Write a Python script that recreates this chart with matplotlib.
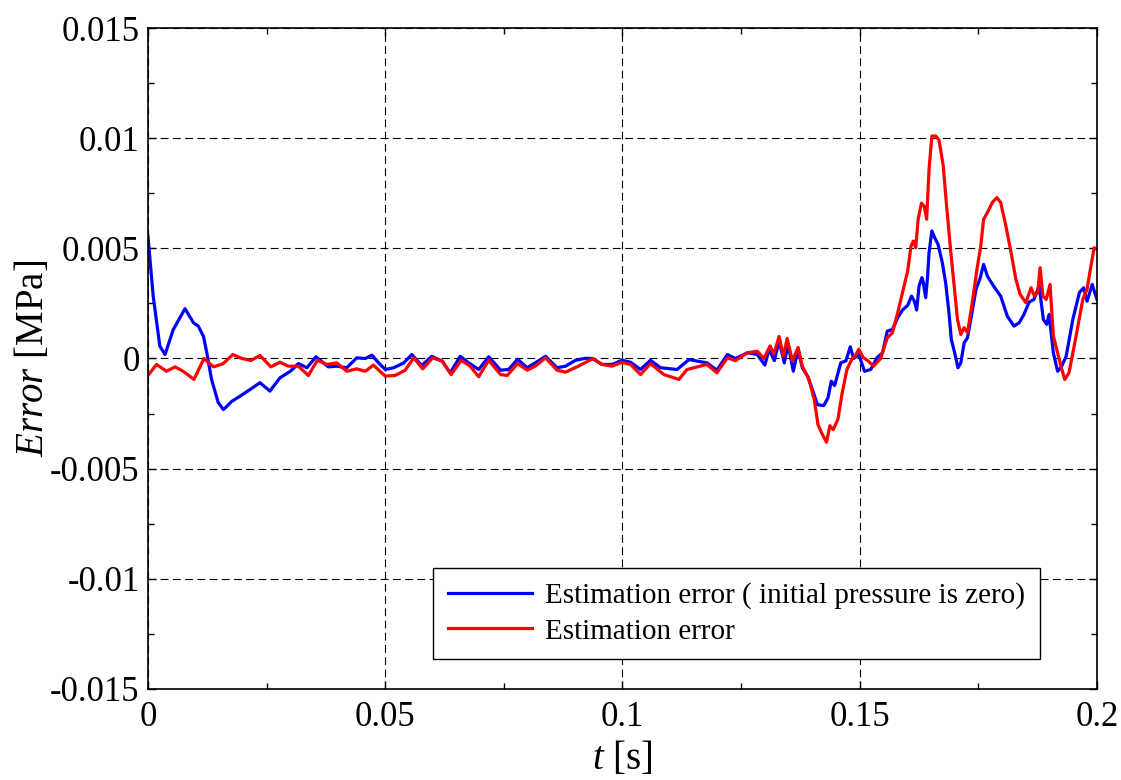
import matplotlib
matplotlib.use('Agg')
import matplotlib.pyplot as plt
from matplotlib.ticker import MultipleLocator

# blue: estimation error with initial pressure zero
t_blue = [0, 0.0011, 0.0025, 0.0036, 0.0053, 0.0078, 0.0096, 0.0106, 0.0117, 0.0124,
          0.0134, 0.0148, 0.0159, 0.0177, 0.0194, 0.0215, 0.0236, 0.0257, 0.0278, 0.0300,
          0.0317, 0.0335, 0.0354, 0.0380, 0.0398, 0.0419, 0.0440, 0.0458, 0.0472, 0.0486,
          0.0500, 0.0518, 0.0539, 0.0556, 0.0577, 0.0598, 0.0620, 0.0637, 0.0658, 0.0676,
          0.0697, 0.0718, 0.0743, 0.0760, 0.0779, 0.0799, 0.0816, 0.0838, 0.0862, 0.0880,
          0.0901, 0.0922, 0.0936, 0.0957, 0.0978, 0.0999, 0.1017, 0.1038, 0.1059, 0.1080,
          0.1115, 0.1140, 0.1178, 0.1199, 0.1221, 0.1238, 0.1263, 0.1284, 0.1300, 0.1309,
          0.1320, 0.1330, 0.1341, 0.1349, 0.1360, 0.1370, 0.1379, 0.1390, 0.1400, 0.1411,
          0.1424, 0.1433, 0.1440, 0.1447, 0.1460, 0.1471, 0.1480, 0.1487, 0.1498, 0.1510,
          0.1523, 0.1537, 0.1548, 0.1558, 0.1569, 0.1580, 0.1590, 0.1601, 0.1609, 0.1615,
          0.1620, 0.1625, 0.1631, 0.1634, 0.1639, 0.1643, 0.1646, 0.1652, 0.1658, 0.1665,
          0.1674, 0.1681, 0.1688, 0.1693, 0.1700, 0.1707, 0.1713, 0.1720, 0.1727, 0.1734,
          0.1745, 0.1754, 0.1761, 0.1769, 0.1782, 0.1797, 0.1811, 0.1825, 0.1836, 0.1846,
          0.1857, 0.1867, 0.1878, 0.1887, 0.1894, 0.1899, 0.1908, 0.1917, 0.1924, 0.1935,
          0.1949, 0.1963, 0.1972, 0.1979, 0.1990, 0.1995, 0.2000]
e_blue = [0.00556, 0.00283, 0.00056, 0.00018, 0.0013, 0.00226, 0.00162, 0.00147, 0.001, 0.00026,
          -0.00095, -0.002, -0.00232, -0.00194, -0.00171, -0.00141, -0.0011, -0.00148, -0.00088, -0.00058,
          -0.00023, -0.00042, 0.00008, -0.00038, -0.00035, -0.00042, 0.00003, 0.0, 0.00015, -0.0002,
          -0.0005, -0.00042, -0.0002, 0.00018, -0.00032, 0.0001, -0.00012, -0.00065, 0.0001, -0.0002,
          -0.0005, 0.00008, -0.00053, -0.0005, -0.00003, -0.00042, -0.0002, 0.0001, -0.00042, -0.00035,
          -0.00008, 0.00001, 0.0, -0.00027, -0.00027, -0.00008, -0.00017, -0.0005, -0.00008, -0.00042,
          -0.0005, -0.00005, -0.0002, -0.00053, 0.00018, 0.0, 0.00026, 0.00018, -0.0003, 0.00042,
          -0.0001, 0.0008, -0.0002, 0.00064, -0.00058, 0.00042, -0.00042, -0.0008, -0.0014, -0.0021,
          -0.00214, -0.00179, -0.00103, -0.00123, -0.0002, -0.0001, 0.00053, 0.0, 0.00018, -0.00058,
          -0.0005, 0.00005, 0.00026, 0.00124, 0.00132, 0.00185, 0.0022, 0.00241, 0.00283, 0.0026,
          0.0022, 0.00329, 0.00367, 0.00344, 0.00276, 0.00374, 0.0048, 0.00579, 0.00548, 0.00518,
          0.00435, 0.00344, 0.00208, 0.00086, 0.00026, -0.00042, -0.0002, 0.00071, 0.00094, 0.00177,
          0.00314, 0.00367, 0.00427, 0.00374, 0.00329, 0.00283, 0.00192, 0.00147, 0.00162, 0.002,
          0.00256, 0.00268, 0.00329, 0.00177, 0.00155, 0.002, 0.00026, -0.00058, -0.00042, 0.0001,
          0.00177, 0.003, 0.00321, 0.0026, 0.00336, 0.003, 0.00268]

# red: estimation error
t_red = [0, 0.0018, 0.0039, 0.0057, 0.0074, 0.0097, 0.0118, 0.0138, 0.0158, 0.0179,
         0.0198, 0.0217, 0.0236, 0.0259, 0.0278, 0.0296, 0.0317, 0.0338, 0.0357, 0.0377,
         0.0398, 0.0419, 0.0440, 0.0458, 0.0475, 0.0500, 0.0521, 0.0542, 0.0560, 0.0579,
         0.0600, 0.0620, 0.0639, 0.0660, 0.0679, 0.0697, 0.0718, 0.0743, 0.0757, 0.0779,
         0.0799, 0.0816, 0.0838, 0.0862, 0.0880, 0.0907, 0.0938, 0.0957, 0.0978, 0.0999,
         0.1017, 0.1038, 0.1059, 0.1087, 0.1119, 0.1136, 0.1178, 0.1199, 0.1221, 0.1238,
         0.1263, 0.1284, 0.1298, 0.1311, 0.1319, 0.1330, 0.1339, 0.1347, 0.1358, 0.1370,
         0.1379, 0.1393, 0.1404, 0.1412, 0.1421, 0.1430, 0.1437, 0.1444, 0.1454, 0.1463,
         0.1473, 0.1484, 0.1490, 0.1498, 0.1507, 0.1517, 0.1529, 0.1544, 0.1558, 0.1569,
         0.1580, 0.1590, 0.1601, 0.1608, 0.1613, 0.1618, 0.1623, 0.1630, 0.1636, 0.1641,
         0.1646, 0.1652, 0.1660, 0.1667, 0.1676, 0.1683, 0.1692, 0.1699, 0.1706, 0.1713,
         0.1720, 0.1727, 0.1736, 0.1747, 0.1755, 0.1761, 0.1769, 0.1780, 0.1789, 0.1797,
         0.1808, 0.1819, 0.1829, 0.1838, 0.1850, 0.1861, 0.1868, 0.1875, 0.1880, 0.1886,
         0.1893, 0.1901, 0.1908, 0.1918, 0.1924, 0.1932, 0.1941, 0.1956, 0.1970, 0.1979,
         0.1986, 0.1994, 0.2000]
e_red = [-0.00077, -0.00027, -0.00058, -0.00038, -0.00058, -0.00095, 0.0, -0.00038, -0.00024, 0.00018,
         0.0, -0.00009, 0.00014, -0.00038, -0.00017, -0.00035, -0.00035, -0.00077, -0.00008, -0.00027,
         -0.0002, -0.00058, -0.00047, -0.00058, -0.0003, -0.0008, -0.00077, -0.00053, 0.00003, -0.00047,
         0.00003, -0.00012, -0.00073, -0.00008, -0.00035, -0.00083, -0.00008, -0.00073, -0.00077, -0.00023,
         -0.00053, -0.00035, 0.00003, -0.00053, -0.00062, -0.00035, 0.0, -0.00027, -0.00035, -0.00017,
         -0.00027, -0.00073, -0.00023, -0.00073, -0.00095, -0.0005, -0.00027, -0.00065, 0.00003, -0.0001,
         0.00026, 0.00033, 0.0, 0.00057, 0.0002, 0.001, 0.0001, 0.00091, -0.0001, 0.0005,
         -0.00035, -0.00095, -0.00186, -0.003, -0.00344, -0.0038, -0.00305, -0.00323, -0.00276, -0.00156,
         -0.0005, 0.0, 0.0001, 0.00042, 0.00005, -0.0001, -0.00035, 0.0, 0.00094, 0.00117,
         0.00208, 0.00298, 0.00397, 0.0051, 0.00533, 0.00503, 0.00632, 0.00705, 0.0069, 0.00632,
         0.00859, 0.0101, 0.0101, 0.00992, 0.00874, 0.00692, 0.0048, 0.00329, 0.00177, 0.00109,
         0.0014, 0.00117, 0.00238, 0.00405, 0.0051, 0.00632, 0.00662, 0.0071, 0.0073, 0.00708,
         0.00601, 0.0048, 0.00359, 0.00291, 0.00253, 0.00321, 0.00283, 0.00299, 0.00412, 0.00283,
         0.00268, 0.00336, 0.00103, 0.00018, -0.00035, -0.00095, -0.00065, 0.00103, 0.00268, 0.00314,
         0.00405, 0.00503, 0.00495]

x_ticks = [0, 0.05, 0.1, 0.15, 0.2]
x_labels = ['0', '0.05', '0.1', '0.15', '0.2']
y_ticks = [-0.015, -0.01, -0.005, 0, 0.005, 0.01, 0.015]
y_labels = ['-0.015', '-0.01', '-0.005', '0', '0.005', '0.01', '0.015']

plt.rcParams['font.family'] = 'Liberation Serif'
plt.rcParams['mathtext.fontset'] = 'custom'
plt.rcParams['mathtext.rm'] = 'Liberation Serif'
plt.rcParams['mathtext.it'] = 'Liberation Serif:italic'

fig = plt.figure(figsize=(11.21, 7.8), dpi=100)
ax = fig.add_axes([0.132, 0.1167, 0.8466, 0.8474])

ax.plot(t_blue, e_blue, color='#0000ff', lw=2.3,
        label='Estimation error ( initial pressure is zero)')
ax.plot(t_red, e_red, color='#ff0000', lw=2.3, label='Estimation error')

ax.set_xlim(0, 0.2)
ax.set_ylim(-0.015, 0.015)
ax.set_xticks(x_ticks)
ax.set_xticklabels(x_labels)
ax.set_yticks(y_ticks)
ax.set_yticklabels(y_labels)
ax.xaxis.set_minor_locator(MultipleLocator(0.025))
ax.yaxis.set_minor_locator(MultipleLocator(0.0025))
ax.tick_params(which='both', direction='in', top=True, right=True, labelsize=25, width=1)
ax.tick_params(which='major', length=6)
ax.tick_params(axis='x', which='major', pad=9)
ax.tick_params(axis='y', which='major', pad=6)
ax.tick_params(which='minor', length=4)
ax.grid(True, which='major', color='black', linestyle=(0, (7, 4)), linewidth=0.8)
for s in ax.spines.values():
    s.set_linewidth(1.2)

ax.set_xlabel(r'$t$ [s]', fontsize=28, labelpad=4)
ax.set_ylabel(r'$Error$ [MPa]', fontsize=28, labelpad=-1)

leg = ax.legend(loc='lower right', bbox_to_anchor=(0.94, 0.045), borderaxespad=0,
                fontsize=21, fancybox=False, framealpha=1, edgecolor='black',
                handlelength=2.9, handletextpad=0.45, labelspacing=0.3, borderpad=0.5)
leg.get_frame().set_linewidth(1.0)

plt.savefig('out.png', dpi=100)
